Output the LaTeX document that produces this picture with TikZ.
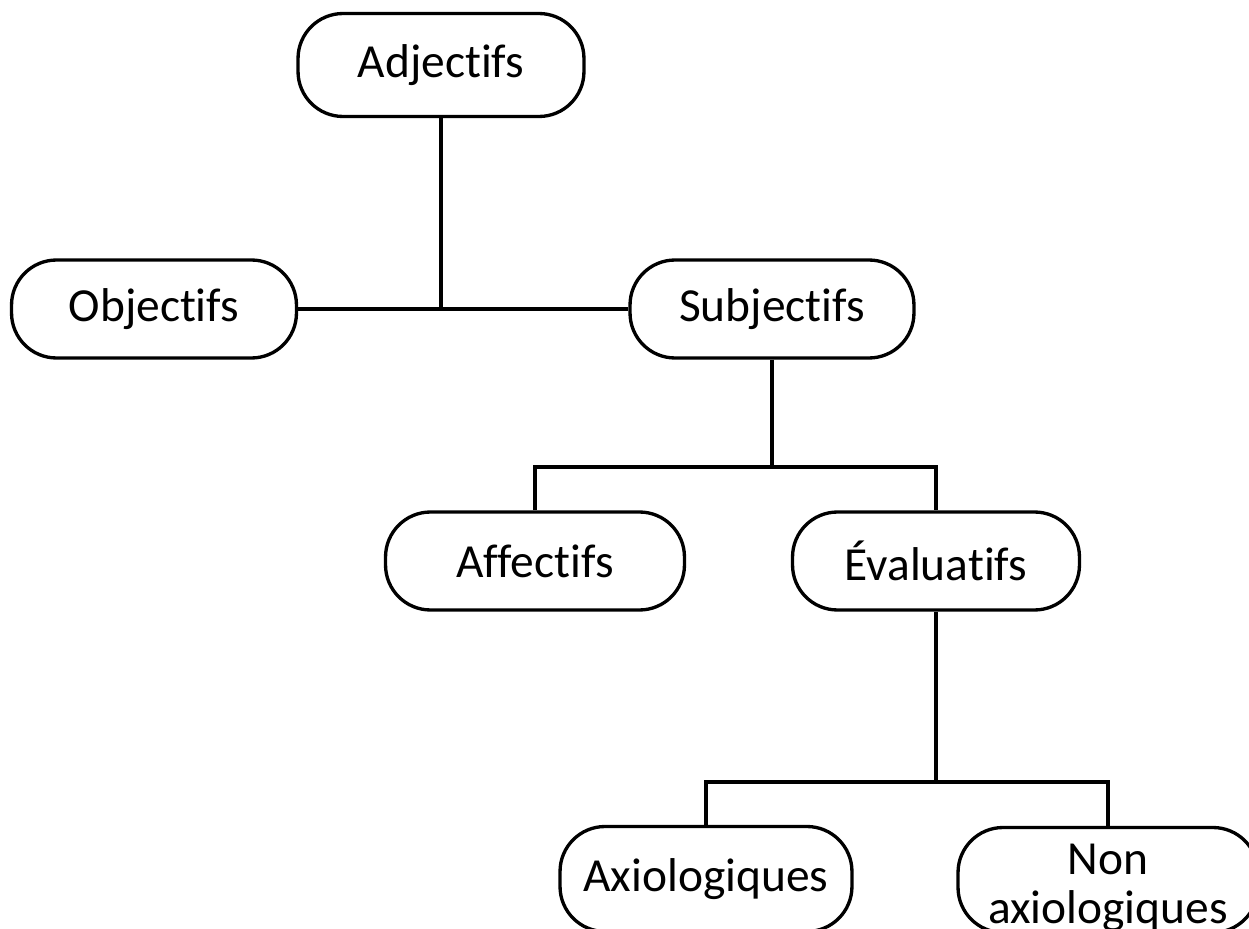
\documentclass[tikz,border=0pt]{standalone}
\usepackage{fontspec}
\setmainfont{Carlito}[Ligatures={NoCommon}]
\tikzset{
  box/.style={draw, line width=1.9pt, rounded corners=0.9cm, inner sep=0pt,
    minimum height=1.96cm, align=center, font=\fontsize{27}{28}\selectfont},
  link/.style={line width=1.9pt}
}
\begin{document}
\begin{tikzpicture}[x=0.02cm,y=-0.02cm]
	\useasboundingbox (0,0) rectangle (1249,929);

	\node [box,minimum width=5.72cm,minimum height=2.06cm] (adj) at (441,65) {Adjectifs};
	\node [box,minimum width=5.7cm] (obj) at (154,309) {Objectifs};
	\node [box,minimum width=5.68cm] (sub) at (772,309) {Subjectifs};
	\node [box,minimum width=5.98cm] (aff) at (535,561) {Affectifs};
	\node [box,minimum width=5.74cm] (eva) at (936,561) {Évaluatifs};
	\node [box,minimum width=5.84cm,minimum height=2.1cm] (axi) at (706,879) {Axiologiques};
	\node [box,minimum width=6cm,minimum height=2.1cm] (nax) at (1108,880) {\rule{0pt}{26pt}Non\\axiologiques};

	\coordinate (j1) at (adj.south |- obj.east);
	\coordinate (j2) at (772,467);
	\coordinate (j3) at (936,782);

	\draw [link] (adj.south) -- (j1);
	\draw [link] (obj.east) -- (sub.west);

	\draw [link] (sub.south) -- (j2);
	\draw [link] (aff.north) |- (j2) -| (eva.north);

	\draw [link] (eva.south) -- (j3);
	\draw [link] (axi.north) |- (j3) -| (nax.north);
\end{tikzpicture}
\end{document}
